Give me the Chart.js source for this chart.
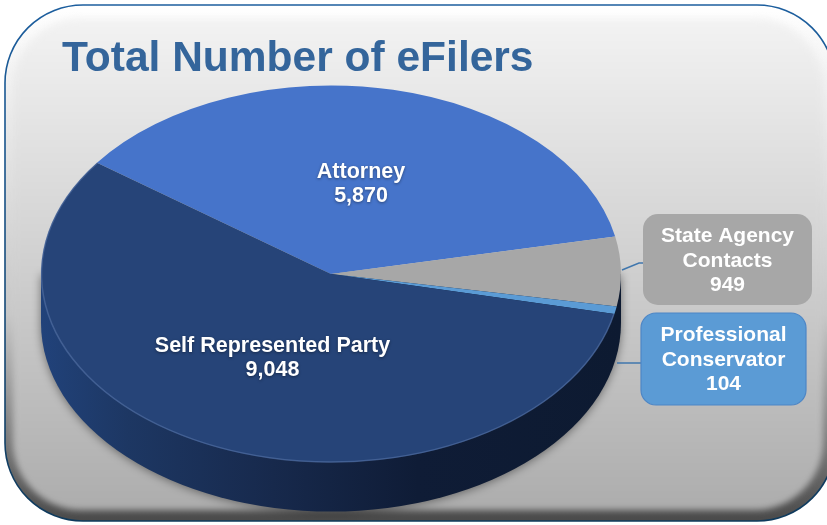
<!DOCTYPE html>
<html>
<head>
<meta charset="utf-8">
<title>Total Number of eFilers</title>
<script src="https://cdn.jsdelivr.net/npm/chart.js@4"></script>
<style>
  html, body { margin: 0; padding: 0; background: #fff; overflow: hidden; }
  canvas { display: block; }
</style>
</head>
<body>
<canvas id="myChart" width="827" height="525"></canvas>
<script>
const chartTitle = "Total Number of eFilers";
const categories = ["Attorney", "State Agency Contacts", "Professional Conservator", "Self Represented Party"];
const filers = [5870, 949, 104, 9048];
const sliceColors = ["#4674ca", "#a7a7a7", "#5b9bd5", "#264478"];

const FONT = '"Liberation Sans", Arial, sans-serif';
const SQUASH = 0.65; // pie is drawn round by the library, then flattened
const DEPTH = 49;

function paintPanel(ctx) {
  ctx.save();
  let rim = ctx.createLinearGradient(0, 5, 0, 521);
  rim.addColorStop(0, "#ffffff");
  rim.addColorStop(0.6, "#c8c8c8");
  rim.addColorStop(1, "#4a4a4a");
  ctx.beginPath();
  ctx.roundRect(5, 5, 830, 516, 78);
  ctx.fillStyle = rim;
  ctx.fill();

  ctx.save();
  ctx.clip();
  ctx.filter = "blur(3px)";
  let inner = ctx.createLinearGradient(0, 18, 0, 510);
  inner.addColorStop(0, "#f3f3f3");
  inner.addColorStop(1, "#adadad");
  ctx.beginPath();
  ctx.roundRect(13, 18, 810, 492, 68);
  ctx.fillStyle = inner;
  ctx.fill();
  ctx.restore();

  let edge = ctx.createLinearGradient(0, 5, 0, 521);
  edge.addColorStop(0, "#1c5e9e");
  edge.addColorStop(1, "#0f3a5c");
  ctx.beginPath();
  ctx.roundRect(5, 5, 830, 516, 78);
  ctx.strokeStyle = edge;
  ctx.lineWidth = 1.6;
  ctx.stroke();
  ctx.restore();
}

function paintWall(ctx, cx, cy, rx, ry) {
  let wall = ctx.createLinearGradient(cx - rx, 0, cx + rx, 0);
  wall.addColorStop(0, "#21427a");
  wall.addColorStop(0.15, "#1d3763");
  wall.addColorStop(0.4, "#17294c");
  wall.addColorStop(0.65, "#0f1c36");
  wall.addColorStop(1, "#0d1a31");
  ctx.save();
  ctx.shadowColor = "rgba(0,0,0,0.45)";
  ctx.shadowBlur = 10;
  ctx.shadowOffsetY = 1;
  ctx.beginPath();
  ctx.moveTo(cx - rx, cy);
  ctx.lineTo(cx - rx, cy + DEPTH);
  ctx.ellipse(cx, cy + DEPTH, rx, ry, 0, Math.PI, 0, true);
  ctx.lineTo(cx + rx, cy);
  ctx.closePath();
  ctx.fillStyle = wall;
  ctx.fill();
  ctx.restore();
}

function paintCallout(ctx, box, index, lineStart) {
  ctx.save();
  ctx.beginPath();
  ctx.moveTo(lineStart[0], lineStart[1]);
  ctx.lineTo(box.lineX - 5, box.lineY);
  ctx.lineTo(box.lineX, box.lineY);
  ctx.strokeStyle = "#3f76ad";
  ctx.lineWidth = 1.5;
  ctx.stroke();

  ctx.beginPath();
  ctx.roundRect(box.x, box.y, box.w, box.h, 15);
  ctx.fillStyle = sliceColors[index];
  ctx.fill();
  if (box.border) {
    ctx.strokeStyle = box.border;
    ctx.lineWidth = 1.2;
    ctx.stroke();
  }
  ctx.fillStyle = "#fff";
  ctx.font = "bold 21px " + FONT;
  ctx.textAlign = "center";
  ctx.textBaseline = "middle";
  const words = box.lines.concat(filers[index].toLocaleString("en-US"));
  words.forEach((t, i) => ctx.fillText(t, box.x + box.w / 2, box.y + 22.5 + i * 24.3));
  ctx.restore();
}

const callouts = {
  1: { x: 643, y: 214, w: 169, h: 91, lineX: 644, lineY: 263, lines: ["State Agency", "Contacts"] },
  2: { x: 641, y: 313, w: 165, h: 92, lineX: 641, lineY: 363, lines: ["Professional", "Conservator"], border: "#4d86c6" }
};

const labelNudge = { 0: [-1, 2], 3: [1, -2] };

const pie3d = {
  id: "pie3d",
  beforeDraw(chart) {
    paintPanel(chart.ctx);
  },
  beforeDatasetsDraw(chart) {
    const ctx = chart.ctx;
    const el = chart.getDatasetMeta(0).data[0];
    paintWall(ctx, el.x, el.y, el.outerRadius, el.outerRadius * SQUASH);
    ctx.save();
    ctx.translate(0, el.y);
    ctx.scale(1, SQUASH);
    ctx.translate(0, -el.y);
  },
  afterDatasetsDraw(chart) {
    const ctx = chart.ctx;
    ctx.restore();
    const arcs = chart.getDatasetMeta(0).data;
    const { x: cx, y: cy, outerRadius: r } = arcs[0];

    // light rim along the front of the top face
    const front = arcs[3];
    ctx.save();
    ctx.beginPath();
    ctx.ellipse(cx, cy, r - 0.5, r * SQUASH - 0.5, 0, front.startAngle, front.endAngle);
    ctx.strokeStyle = "rgba(120,150,200,0.35)";
    ctx.lineWidth = 1.5;
    ctx.stroke();
    ctx.restore();

    [0, 3].forEach((i) => {
      const mid = (arcs[i].startAngle + arcs[i].endAngle) / 2;
      const x = cx + Math.cos(mid) * r * 0.5 + labelNudge[i][0];
      const y = cy + Math.sin(mid) * r * SQUASH * 0.5 + labelNudge[i][1];
      ctx.save();
      ctx.fillStyle = "#fff";
      ctx.font = "bold 21.5px " + FONT;
      ctx.textAlign = "center";
      ctx.textBaseline = "middle";
      ctx.shadowColor = "rgba(0,0,0,0.4)";
      ctx.shadowBlur = 3;
      ctx.shadowOffsetY = 1;
      ctx.fillText(categories[i], x, y - 12);
      ctx.fillText(filers[i].toLocaleString("en-US"), x, y + 12);
      ctx.restore();
    });

    paintCallout(ctx, callouts[1], 1, [622, 270]);
    paintCallout(ctx, callouts[2], 2, [617, 363]);
  }
};

new Chart(document.getElementById("myChart").getContext("2d"), {
  type: "pie",
  data: {
    labels: categories,
    datasets: [{
      data: filers,
      backgroundColor: sliceColors,
      borderWidth: 0,
      clip: false
    }]
  },
  options: {
    responsive: false,
    animation: false,
    events: [],
    rotation: -53.8,
    radius: 290,
    layout: { padding: { left: 62, right: 227, top: 0, bottom: 62 } },
    plugins: {
      legend: { display: false },
      tooltip: { enabled: false },
      title: {
        display: true,
        text: chartTitle,
        align: "start",
        color: "#34659b",
        font: { family: FONT, size: 42.5, weight: "bold", lineHeight: 1.2 },
        padding: { top: 34, bottom: 0 }
      }
    }
  },
  plugins: [pie3d]
});
</script>
</body>
</html>
